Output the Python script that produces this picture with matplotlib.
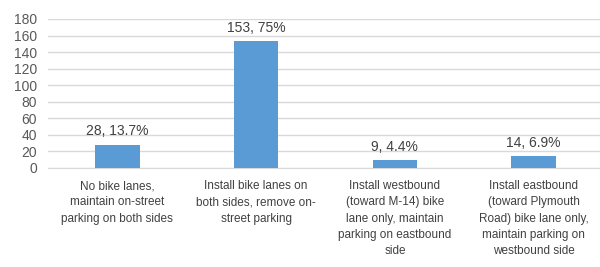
import matplotlib.pyplot as plt

categories = ['No bike lanes,\nmaintain on-street\nparking on both sides',
              'Install bike lanes on\nboth sides, remove on-\nstreet parking',
              'Install westbound\n(toward M-14) bike\nlane only, maintain\nparking on eastbound\nside',
              'Install eastbound\n(toward Plymouth\nRoad) bike lane only,\nmaintain parking on\nwestbound side']
counts = [28, 153, 9, 14]
labels = ['28, 13.7%', '153, 75%', '9, 4.4%', '14, 6.9%']
yticks = [0, 20, 40, 60, 80, 100, 120, 140, 160, 180]

plt.rcParams['font.family'] = ['Liberation Sans', 'DejaVu Sans']

fig = plt.figure(figsize=(6, 2.67), dpi=100)
ax = fig.add_axes([0.08, 0.371, 0.925, 0.558])

x = range(len(counts))
ax.bar(x, counts, width=0.32, color='#5B9BD5', zorder=3)
for i, v in enumerate(counts):
    ax.text(i, v + 8, labels[i], ha='center', va='bottom', fontsize=10, color='#404040')

ax.set_xlim(-0.5, 3.5)
ax.set_ylim(0, 180)
ax.set_yticks(yticks)
ax.set_xticks(list(x))
ax.set_xticklabels(categories, fontsize=8.5, color='#404040', linespacing=1.45,
                   multialignment='center')
ax.tick_params(axis='y', labelsize=10, labelcolor='#595959', length=0, pad=8)
ax.tick_params(axis='x', length=0, pad=9)
ax.grid(axis='y', color='#d9d9d9', linewidth=1, zorder=0)
for s in ['top', 'right', 'left']:
    ax.spines[s].set_visible(False)
ax.spines['bottom'].set_color('#d9d9d9')

fig.savefig('out.png', dpi=100)
